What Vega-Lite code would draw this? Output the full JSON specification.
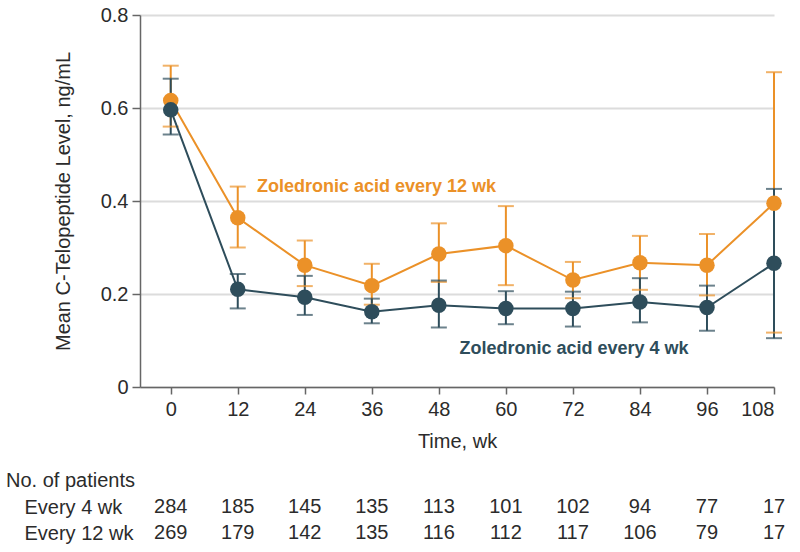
{
  "$schema": "https://vega.github.io/schema/vega-lite/v6.json",
  "padding": {"left": 6, "top": 5, "right": 5, "bottom": 5},
  "bounds": "flush",
  "spacing": 107,
  "background": "white",
  "config": {
    "font": "Liberation Sans",
    "view": {"stroke": null},
    "axis": {"labelFontSize": 20, "titleFontSize": 20, "labelColor": "#2b2b2b", "titleColor": "#2b2b2b", "titleFontWeight": "normal", "domainColor": "#666666", "tickColor": "#666666", "domainWidth": 1.5, "tickWidth": 1.5},
    "title": {"fontSize": 20, "fontWeight": "normal", "color": "#2b2b2b"}
  },
  "datasets": {
    "cte": [
      {"group": "Every 12 wk", "week": 0, "mean": 0.616, "lo": 0.560, "hi": 0.691},
      {"group": "Every 12 wk", "week": 12, "mean": 0.364, "lo": 0.300, "hi": 0.431},
      {"group": "Every 12 wk", "week": 24, "mean": 0.262, "lo": 0.217, "hi": 0.315},
      {"group": "Every 12 wk", "week": 36, "mean": 0.218, "lo": 0.177, "hi": 0.265},
      {"group": "Every 12 wk", "week": 48, "mean": 0.286, "lo": 0.226, "hi": 0.352},
      {"group": "Every 12 wk", "week": 60, "mean": 0.304, "lo": 0.219, "hi": 0.389},
      {"group": "Every 12 wk", "week": 72, "mean": 0.230, "lo": 0.191, "hi": 0.269},
      {"group": "Every 12 wk", "week": 84, "mean": 0.267, "lo": 0.209, "hi": 0.325},
      {"group": "Every 12 wk", "week": 96, "mean": 0.262, "lo": 0.197, "hi": 0.329},
      {"group": "Every 12 wk", "week": 108, "mean": 0.395, "lo": 0.117, "hi": 0.677},
      {"group": "Every 4 wk", "week": 0, "mean": 0.596, "lo": 0.543, "hi": 0.663},
      {"group": "Every 4 wk", "week": 12, "mean": 0.210, "lo": 0.169, "hi": 0.243},
      {"group": "Every 4 wk", "week": 24, "mean": 0.193, "lo": 0.155, "hi": 0.239},
      {"group": "Every 4 wk", "week": 36, "mean": 0.162, "lo": 0.137, "hi": 0.190},
      {"group": "Every 4 wk", "week": 48, "mean": 0.176, "lo": 0.128, "hi": 0.229},
      {"group": "Every 4 wk", "week": 60, "mean": 0.169, "lo": 0.135, "hi": 0.206},
      {"group": "Every 4 wk", "week": 72, "mean": 0.169, "lo": 0.130, "hi": 0.205},
      {"group": "Every 4 wk", "week": 84, "mean": 0.183, "lo": 0.139, "hi": 0.234},
      {"group": "Every 4 wk", "week": 96, "mean": 0.171, "lo": 0.121, "hi": 0.218},
      {"group": "Every 4 wk", "week": 108, "mean": 0.266, "lo": 0.105, "hi": 0.426}
    ],
    "labels": [
      {"group": "Every 12 wk", "week": 15.45, "value": 0.430, "label": "Zoledronic acid every 12 wk"},
      {"group": "Every 4 wk", "week": 51.7, "value": 0.082, "label": "Zoledronic acid every 4 wk"}
    ],
    "patients": [
      {"group": "Every 4 wk", "week": 0, "n": 284},
      {"group": "Every 4 wk", "week": 12, "n": 185},
      {"group": "Every 4 wk", "week": 24, "n": 145},
      {"group": "Every 4 wk", "week": 36, "n": 135},
      {"group": "Every 4 wk", "week": 48, "n": 113},
      {"group": "Every 4 wk", "week": 60, "n": 101},
      {"group": "Every 4 wk", "week": 72, "n": 102},
      {"group": "Every 4 wk", "week": 84, "n": 94},
      {"group": "Every 4 wk", "week": 96, "n": 77},
      {"group": "Every 4 wk", "week": 108, "n": 17},
      {"group": "Every 12 wk", "week": 0, "n": 269},
      {"group": "Every 12 wk", "week": 12, "n": 179},
      {"group": "Every 12 wk", "week": 24, "n": 142},
      {"group": "Every 12 wk", "week": 36, "n": 135},
      {"group": "Every 12 wk", "week": 48, "n": 116},
      {"group": "Every 12 wk", "week": 60, "n": 112},
      {"group": "Every 12 wk", "week": 72, "n": 117},
      {"group": "Every 12 wk", "week": 84, "n": 106},
      {"group": "Every 12 wk", "week": 96, "n": 79},
      {"group": "Every 12 wk", "week": 108, "n": 17}
    ]
  },
  "vconcat": [
    {
      "width": 634,
      "height": 372,
      "data": {"name": "cte"},
      "encoding": {
        "x": {
          "field": "week", "type": "quantitative",
          "scale": {"domain": [-5.5, 108], "nice": false, "zero": false},
          "axis": {"values": [0, 12, 24, 36, 48, 60, 72, 84, 96, 108], "title": "Time, wk", "grid": false, "tickSize": 7, "labelPadding": 5, "titlePadding": 12}
        },
        "color": {
          "field": "group", "type": "nominal",
          "scale": {"domain": ["Every 12 wk", "Every 4 wk"], "range": ["#EB9128", "#2E4D5B"]},
          "legend": null
        }
      },
      "layer": [
        {
          "mark": {"type": "rule", "strokeWidth": 2},
          "encoding": {
            "y": {
              "field": "lo", "type": "quantitative", "title": "Mean C-Telopeptide Level, ng/mL",
              "scale": {"domain": [0, 0.8], "nice": false},
              "axis": {"values": [0, 0.2, 0.4, 0.6, 0.8], "format": ".1~f", "grid": true, "gridColor": "#dcdcdc", "gridWidth": 2, "tickSize": 8, "labelPadding": 4, "titlePadding": 27}
            },
            "y2": {"field": "hi"}
          }
        },
        {
          "mark": {"type": "tick", "orient": "horizontal", "size": 16, "thickness": 2},
          "encoding": {"y": {"field": "lo", "type": "quantitative", "title": "Mean C-Telopeptide Level, ng/mL"}}
        },
        {
          "mark": {"type": "tick", "orient": "horizontal", "size": 16, "thickness": 2},
          "encoding": {"y": {"field": "hi", "type": "quantitative", "title": "Mean C-Telopeptide Level, ng/mL"}}
        },
        {
          "mark": {"type": "line", "strokeWidth": 2},
          "encoding": {"y": {"field": "mean", "type": "quantitative", "title": "Mean C-Telopeptide Level, ng/mL"}}
        },
        {
          "mark": {"type": "circle", "size": 240, "opacity": 1},
          "encoding": {"y": {"field": "mean", "type": "quantitative", "title": "Mean C-Telopeptide Level, ng/mL"}}
        },
        {
          "data": {"name": "labels"},
          "mark": {"type": "text", "align": "left", "baseline": "middle", "fontSize": 18, "fontWeight": "bold"},
          "encoding": {
            "y": {"field": "value", "type": "quantitative", "title": "Mean C-Telopeptide Level, ng/mL"},
            "text": {"field": "label"}
          }
        }
      ]
    },
    {
      "width": 634,
      "height": 52,
      "data": {"name": "patients"},
      "title": {"text": "No. of patients", "anchor": "start", "frame": "group", "dx": -134, "offset": 3},
      "mark": {"type": "text", "align": "center", "baseline": "middle", "fontSize": 20, "color": "#2b2b2b"},
      "encoding": {
        "x": {"field": "week", "type": "quantitative", "scale": {"domain": [-5.5, 108], "nice": false, "zero": false}, "axis": null},
        "y": {
          "field": "group", "type": "nominal", "sort": ["Every 4 wk", "Every 12 wk"],
          "axis": {"title": null, "domain": false, "ticks": false, "tickSize": 0, "labelAlign": "left", "labelPadding": 116, "labelFontSize": 20}
        },
        "text": {"field": "n", "type": "quantitative"}
      }
    }
  ]
}
